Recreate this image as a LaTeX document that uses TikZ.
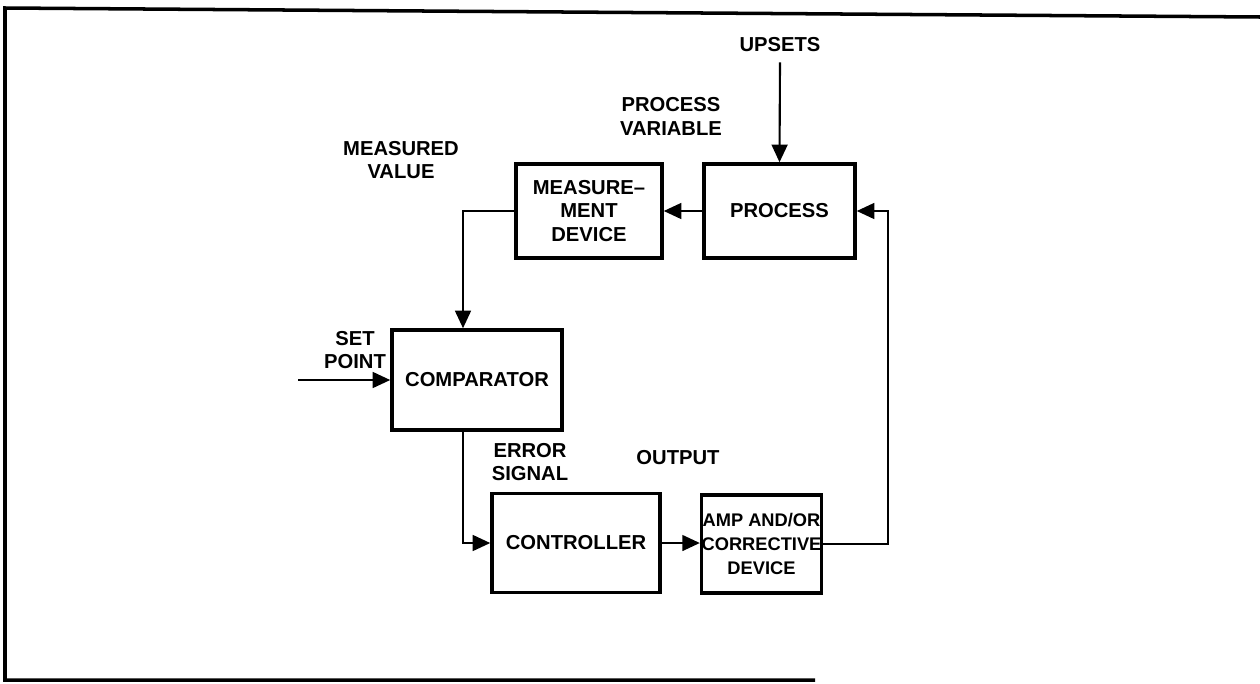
\documentclass[tikz,border=0pt]{standalone}
\usepackage{fontspec}
\setmainfont{Liberation Sans}
\usetikzlibrary{arrows.meta}
\tikzset{
  block/.style={draw, line width=2pt, align=center, inner sep=2pt},
  flow/.style={line width=1.2pt, -{Triangle[length=10pt,width=9pt]}},
  tag/.style={align=center, inner sep=1pt}
}
\begin{document}
\begin{tikzpicture}[x=0.02cm, y=-0.02cm, font=\fontsize{11.5}{13.6}\selectfont\bfseries]
\useasboundingbox (0,0) rectangle (1260,683);
% frame
\draw[line width=2pt] (1260,17) -- (5,8) -- (5,680) -- (815,680);
% blocks
\node[block, minimum width=2.92cm, minimum height=1.88cm] (meas) at (589,211) {MEASURE--\\MENT\\DEVICE};
\node[block, minimum width=3.02cm, minimum height=1.88cm] (proc) at (779.5,211) {PROCESS};
\node[block, minimum width=3.4cm, minimum height=2.0cm] (comp) at (477,380) {COMPARATOR};
\node[block, minimum width=3.36cm, minimum height=1.98cm] (ctrl) at (576,543) {CONTROLLER};
\node[block, minimum width=2.34cm, minimum height=1.96cm, inner sep=0pt,
  font=\fontsize{10.4}{13.6}\selectfont\bfseries] (amp) at (761.5,544) {AMP AND/OR\\CORRECTIVE\\DEVICE};
% labels
\node[tag] (upsets) at (780,45) {UPSETS};
\node[tag] (pv) at (671,116) {PROCESS\\VARIABLE};
\node[tag] (mv) at (401,160) {MEASURED\\VALUE};
\node[tag] (sp) at (355,350) {SET\\POINT};
\node[tag] (err) at (530,462) {ERROR\\SIGNAL};
\node[tag] (out) at (678,458) {OUTPUT};
\coordinate (spin) at (298,380);
% connectors
\draw[flow] (upsets.south) ++(0,8) -- (proc.north);
\draw[flow] (proc.west) -- (meas.east);
\draw[flow] (meas.west) -| ([xshift=-0.28cm]comp.north);
\draw[flow] (spin) -- (comp.west);
\draw[flow] ([xshift=-0.28cm]comp.south) |- (ctrl.west);
\draw[flow] (ctrl.east) -- (ctrl.east -| amp.west);
\draw[flow] (amp.east) -- ++(1.3cm,0) |- (proc.east);
\end{tikzpicture}
\end{document}
